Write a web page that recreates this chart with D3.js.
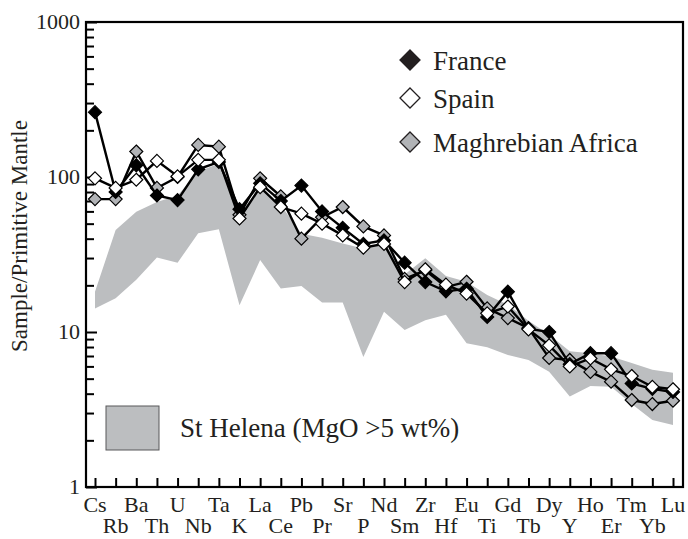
<!DOCTYPE html>
<html>
<head>
<meta charset="UTF-8">
<script src="https://cdn.jsdelivr.net/npm/d3@7"></script>
<style>
    body { margin: 0; background: #fff; }
    .axis path { display: none; }
    .axis line { stroke: #000; stroke-width: 2px; }
</style>
</head>
<body>
<svg width="688" height="539"></svg>
<script>
// elements along the x axis
const elements = ["Cs","Rb","Ba","Th","U","Nb","Ta","K","La","Ce","Pb","Pr","Sr","P","Nd",
    "Sm","Zr","Hf","Eu","Ti","Gd","Tb","Dy","Y","Ho","Er","Tm","Yb","Lu"];

// sample / primitive mantle
const france  = [262, 80, 119, 76, 71, 112, 125, 62, 91, 70, 88, 60, 47, 37, 39,
    28, 21, 18.3, 19, 12.5, 18.2, 10.5, 10, 6.2, 7.3, 7.3, 4.66, 4.3, 4.1];
const spain   = [98, 85, 96, 127, 101, 129, 129, 54, 86, 64, 58, 50, 42, 35, 37,
    21, 25.4, 20.2, 17.7, 13.2, 14.6, 10.4, 8.2, 6.0, 6.75, 5.74, 5.2, 4.43, 4.27];
const maghreb = [72, 72, 146, 85, 100, 161, 157, 57, 98, 75, 40, 55, 64, 48, 42,
    22, 25, 19.5, 21.1, 14.2, 12.3, 10.6, 6.8, 6.6, 5.53, 4.78, 3.64, 3.43, 3.6];

// St Helena field (MgO > 5 wt%)
const bandUpper = [18.2, 45.5, 59.7, 69, 76, 108, 122, 57, 86, 66, 43, 40.5, 37.3, 34.6, 38,
    23.5, 29.9, 23, 21.1, 17.3, 15, 11.8, 9.6, 7.5, 7.3, 6.95, 6.3, 5.7, 5.45];
const bandLower = [14.2, 16.5, 21.7, 30.3, 28, 43.3, 46, 14.9, 29.1, 19.1, 19.8, 15.5, 15.5, 6.9, 13.5,
    10.3, 11.9, 12.9, 8.45, 7.96, 7.1, 6.6, 5.55, 3.83, 4.48, 4.43, 3.43, 2.71, 2.51];

const yTicks = [1, 10, 100, 1000];

const series = [
    { name: "Maghrebian Africa", values: maghreb, fill: "#b1b3b6" },
    { name: "France", values: france, fill: "#000" },
    { name: "Spain", values: spain, fill: "#fff" }
];
const legendOrder = ["France", "Spain", "Maghrebian Africa"];

const plotLeft = 86, plotRight = 683, plotTop = 22, plotBottom = 487;
const textColor = "#231f20";
const bandColor = "#bcbec0";
const serif = "Liberation Serif";

const svg = d3.select("svg");

const x = d3.scalePoint().domain(elements).range([95, 673]);
const y = d3.scaleLog().domain([1, 1000]).range([plotBottom, plotTop]);

// shaded field
const area = d3.area()
    .x((d, i) => x(elements[i]))
    .y0((d, i) => y(bandLower[i]))
    .y1(d => y(d));
svg.append("path")
    .datum(bandUpper)
    .attr("d", area)
    .attr("fill", bandColor);

// minor and major y ticks, pointing inward
const minor = [];
for (let e = 0; e < 3; e++) for (let k = 2; k <= 9; k++) minor.push(k * Math.pow(10, e));

svg.append("g")
    .attr("class", "axis")
    .attr("transform", `translate(${plotLeft},0)`)
    .call(d3.axisLeft(y).tickValues(minor).tickSize(-8).tickFormat(""));

svg.append("g")
    .attr("class", "axis")
    .attr("transform", `translate(${plotLeft},0)`)
    .call(d3.axisLeft(y).tickValues(yTicks).tickSize(-11).tickFormat(""));

// y tick labels
svg.append("g")
    .selectAll("text")
    .data(yTicks)
    .join("text")
    .attr("x", plotLeft - 6)
    .attr("y", d => y(d))
    .attr("dy", "0.34em")
    .attr("text-anchor", "end")
    .attr("font-family", serif)
    .attr("font-size", 22)
    .attr("fill", textColor)
    .text(d => d);

// x ticks, pointing inward
svg.append("g")
    .attr("class", "axis")
    .attr("transform", `translate(0,${plotBottom})`)
    .call(d3.axisBottom(x).tickSize(-9).tickFormat(""));

// two staggered rows of element labels
svg.append("g")
    .selectAll("text")
    .data(elements)
    .join("text")
    .attr("x", d => x(d))
    .attr("y", (d, i) => i % 2 === 0 ? 512 : 533)
    .attr("text-anchor", "middle")
    .attr("font-family", serif)
    .attr("font-size", 22)
    .attr("fill", textColor)
    .text(d => d);

// frame
svg.append("rect")
    .attr("x", plotLeft)
    .attr("y", plotTop)
    .attr("width", plotRight - plotLeft)
    .attr("height", plotBottom - plotTop)
    .attr("fill", "none")
    .attr("stroke", "#000")
    .attr("stroke-width", 2.2);

// axis title
svg.append("text")
    .attr("transform", "translate(27,236) rotate(-90)")
    .attr("text-anchor", "middle")
    .attr("font-family", serif)
    .attr("font-size", 23)
    .attr("fill", textColor)
    .text("Sample/Primitive Mantle");

const diamond = (cx, cy, r) => `M${cx},${cy - r}L${cx + r},${cy}L${cx},${cy + r}L${cx - r},${cy}Z`;

const line = d3.line()
    .x((d, i) => x(elements[i]))
    .y(d => y(d));

series.forEach(s => {
    const g = svg.append("g");
    g.append("path")
        .datum(s.values)
        .attr("d", line)
        .attr("fill", "none")
        .attr("stroke", "#000")
        .attr("stroke-width", 2.4);
    g.selectAll("path.pt")
        .data(s.values)
        .join("path")
        .attr("class", "pt")
        .attr("d", (d, i) => diamond(x(elements[i]), y(d), 6.5))
        .attr("fill", s.fill)
        .attr("stroke", "#000")
        .attr("stroke-width", 1.2);
});

// legend
const legY = [60, 98, 142];
legendOrder.forEach((name, i) => {
    const s = series.find(t => t.name === name);
    svg.append("path")
        .attr("d", diamond(410, legY[i], 10))
        .attr("fill", s.fill === "#000" ? "#231f20" : s.fill)
        .attr("stroke", "#231f20")
        .attr("stroke-width", 1.3);
    svg.append("text")
        .attr("x", 433)
        .attr("y", legY[i] + 10)
        .attr("font-family", serif)
        .attr("font-size", 27)
        .attr("fill", textColor)
        .text(name);
});

svg.append("rect")
    .attr("x", 106).attr("y", 406)
    .attr("width", 53).attr("height", 44)
    .attr("fill", bandColor)
    .attr("stroke", "#58595b")
    .attr("stroke-width", 1);
svg.append("text")
    .attr("x", 180)
    .attr("y", 437)
    .attr("font-family", serif)
    .attr("font-size", 27)
    .attr("fill", textColor)
    .text("St Helena (MgO >5 wt%)");
</script>
</body>
</html>
